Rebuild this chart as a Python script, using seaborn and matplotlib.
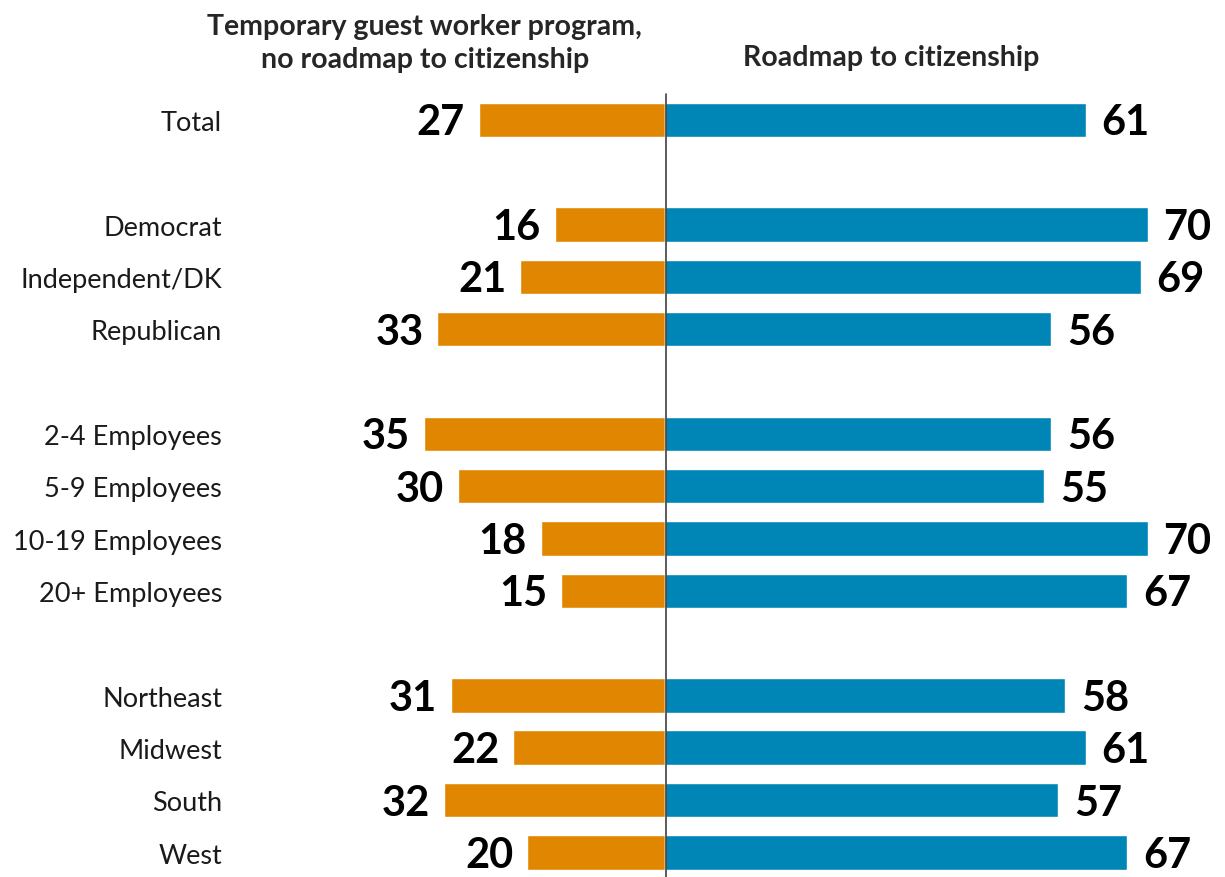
import matplotlib
matplotlib.use("Agg")
import matplotlib.pyplot as plt
import seaborn as sns
import pandas as pd

categories = ["Total", "Democrat", "Independent/DK", "Republican",
              "2-4 Employees", "5-9 Employees", "10-19 Employees", "20+ Employees",
              "Northeast", "Midwest", "South", "West"]
# row positions, blank rows between groups
positions = [0, 2, 3, 4, 6, 7, 8, 9, 11, 12, 13, 14]
guest_worker = [27, 16, 21, 33, 35, 30, 18, 15, 31, 22, 32, 20]
roadmap = [61, 70, 69, 56, 56, 55, 70, 67, 58, 61, 57, 67]

header_left = "Temporary guest worker program,\nno roadmap to citizenship"
header_right = "Roadmap to citizenship"

orange = "#E08600"
blue = "#0086B6"

sns.set_style("white")
plt.rcParams["font.family"] = ["Lato", "DejaVu Sans"]

df = pd.DataFrame({"cat": categories, "pos": positions,
                   "left": [-v for v in guest_worker], "right": roadmap})

fig = plt.figure(figsize=(12.25, 8.78), dpi=100)
ax = fig.add_axes([0, 0, 1, 1])

sns.barplot(data=df, x="left", y="pos", orient="h", native_scale=True,
            color=orange, width=0.66, saturation=1, ax=ax)
sns.barplot(data=df, x="right", y="pos", orient="h", native_scale=True,
            color=blue, width=0.66, saturation=1, ax=ax)

ax.set_xlim(-96.4, 81.2)
ax.set_ylim(14.47, -2.31)
ax.axis("off")

# center divider
ax.plot([0.15, 0.15], [-0.5, 14.47], color="#404040", lw=1.2, zorder=5)

for cat, p, l, r in zip(categories, positions, guest_worker, roadmap):
    ax.text(-64.2, p + 0.05, cat, ha="right", va="center", fontsize=19.5, color="#1a1a1a")
    ax.text(-l - 2.0, p + 0.05, str(l), ha="right", va="center", fontsize=30,
            fontweight="bold", color="black")
    ax.text(r + 2.3, p + 0.05, str(r), ha="left", va="center", fontsize=30,
            fontweight="bold", color="black")

ax.text(-34.8, -1.48, header_left, ha="center", va="center", fontsize=20.5,
        fontweight="bold", linespacing=1.35)
ax.text(32.8, -1.2, header_right, ha="center", va="center", fontsize=20.5,
        fontweight="bold")

fig.savefig("out.png", dpi=100)
plt.close(fig)
